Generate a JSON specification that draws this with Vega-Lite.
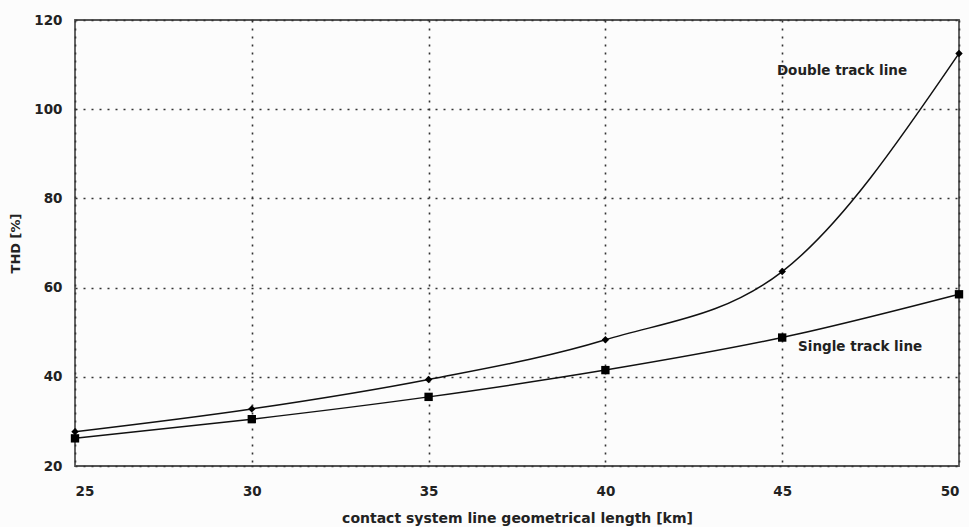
{
  "$schema": "https://vega.github.io/schema/vega-lite/v6.json",
  "width": 884,
  "height": 446,
  "autosize": {"type": "none"},
  "padding": {"left": 75, "top": 20, "right": 10, "bottom": 61},
  "background": "#fcfcfc",
  "config": {
    "font": "DejaVu Sans",
    "view": {"stroke": "#555", "strokeWidth": 1.8},
    "axis": {
      "labelFont": "DejaVu Sans",
      "labelFontWeight": "bold",
      "labelFontSize": 13.5,
      "labelColor": "#222",
      "titleFont": "DejaVu Sans",
      "titleFontWeight": "bold",
      "titleFontSize": 14,
      "titleColor": "#222",
      "domain": false,
      "ticks": false,
      "gridColor": "#333",
      "gridDash": [2, 6],
      "gridWidth": 1.6,
      "gridOpacity": 1
    }
  },
  "datasets": {
    "thd": [
      {"km": 25, "thd": 27.7, "series": "Double track line"},
      {"km": 30, "thd": 32.8, "series": "Double track line"},
      {"km": 35, "thd": 39.4, "series": "Double track line"},
      {"km": 40, "thd": 48.3, "series": "Double track line"},
      {"km": 45, "thd": 63.6, "series": "Double track line"},
      {"km": 50, "thd": 112.5, "series": "Double track line"},
      {"km": 25, "thd": 26.2, "series": "Single track line"},
      {"km": 30, "thd": 30.5, "series": "Single track line"},
      {"km": 35, "thd": 35.5, "series": "Single track line"},
      {"km": 40, "thd": 41.5, "series": "Single track line"},
      {"km": 45, "thd": 48.8, "series": "Single track line"},
      {"km": 50, "thd": 58.5, "series": "Single track line"}
    ],
    "labels": [
      {"km": 44.85, "thd": 108.6, "series": "Double track line"},
      {"km": 45.45, "thd": 46.7, "series": "Single track line"}
    ]
  },
  "encoding": {
    "x": {
      "field": "km",
      "type": "quantitative",
      "scale": {"domain": [25, 50], "nice": false, "zero": false},
      "axis": {
        "values": [25, 30, 35, 40, 45, 50],
        "title": "contact system line geometrical length [km]",
        "labelPadding": 18,
        "titleY": 56,
        "titleBaseline": "alphabetic"
      }
    },
    "y": {
      "field": "thd",
      "type": "quantitative",
      "scale": {"domain": [20, 120], "nice": false, "zero": false},
      "axis": {
        "values": [20, 40, 60, 80, 100, 120],
        "title": "THD [%]",
        "titleFontSize": 13,
        "labelPadding": 13,
        "titleX": -60,
        "titleBaseline": "middle"
      }
    }
  },
  "layer": [
    {
      "data": {"name": "thd"},
      "mark": {"type": "line", "interpolate": "monotone", "color": "#111", "strokeWidth": 1.5},
      "encoding": {"detail": {"field": "series"}}
    },
    {
      "data": {"name": "thd"},
      "mark": {"type": "point", "filled": true, "color": "#000", "opacity": 1},
      "encoding": {
        "shape": {
          "field": "series",
          "scale": {"domain": ["Double track line", "Single track line"], "range": ["diamond", "square"]},
          "legend": null
        },
        "size": {
          "field": "series",
          "scale": {"domain": ["Double track line", "Single track line"], "range": [55, 70]},
          "legend": null
        }
      }
    },
    {
      "data": {"name": "labels"},
      "mark": {"type": "text", "align": "left", "baseline": "middle", "fontWeight": "bold", "fontSize": 13.5, "color": "#222", "font": "DejaVu Sans"},
      "encoding": {"text": {"field": "series"}}
    }
  ]
}
